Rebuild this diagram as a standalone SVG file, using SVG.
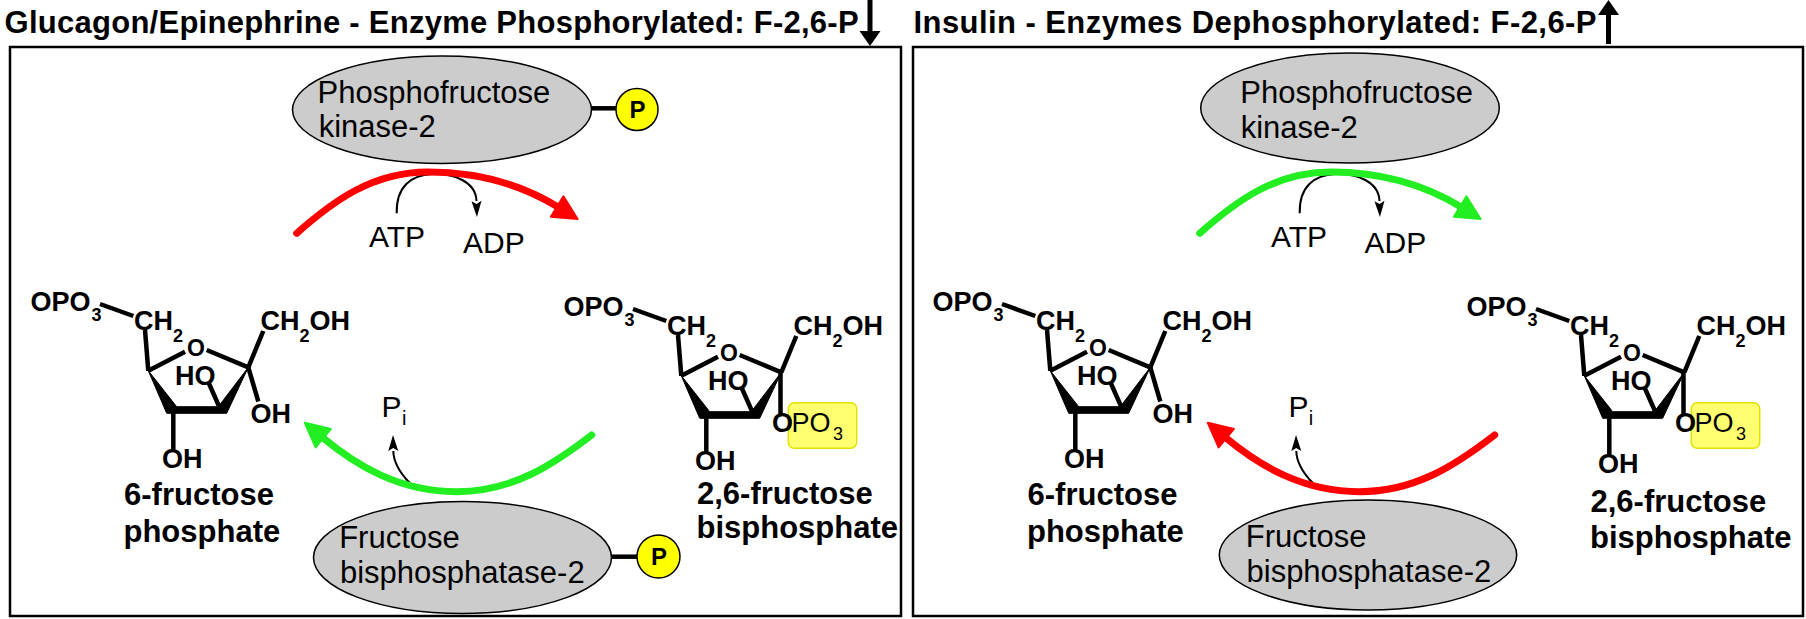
<svg xmlns="http://www.w3.org/2000/svg" width="1806" height="619" viewBox="0 0 1806 619">
<style>
text{font-family:"Liberation Sans",Arial,Helvetica,sans-serif;fill:#000}
.title{font-weight:bold;font-size:31px}
.box{fill:none;stroke:#000;stroke-width:2.5}
.enz{fill:#cccccc;stroke:#000;stroke-width:1.5}
.enzt{font-size:31px}
.small{font-size:30px}
.pis{font-size:20px}
.lbl{font-weight:bold;font-size:31px}
.atom{font-weight:bold;font-size:27px}
.sub{font-size:18px}
.ringo{font-size:23px}
.reg{font-weight:normal}
.po{font-size:27px}
.bond{fill:none;stroke:#000;stroke-width:4.5}
.wedge{fill:#000;stroke:#000;stroke-width:1;stroke-linejoin:round}
.ybox{fill:#ffff70;stroke:#e2e200;stroke-width:1.5}
.pc{fill:#ffff00;stroke:#000;stroke-width:1.5}
.pt{font-weight:bold;font-size:24px;text-anchor:middle}
.plink{stroke:#000;stroke-width:4.5}
.arc{fill:none;stroke-width:7;stroke-linecap:round}
.red{stroke:#ff0000}
.green{stroke:#22ee22}
.thin{fill:none;stroke:#000;stroke-width:2}
.tarrow{stroke:#000;stroke-width:5}
</style>
<defs>
<marker id="ah-red" markerUnits="userSpaceOnUse" markerWidth="30" markerHeight="30" refX="1" refY="12" orient="auto" overflow="visible">
<path d="M0,0 L24,12 L0,24 Z" fill="#ff0000" stroke="#ff0000" stroke-width="2" stroke-linejoin="round"/>
</marker>
<marker id="ah-green" markerUnits="userSpaceOnUse" markerWidth="30" markerHeight="30" refX="1" refY="12" orient="auto" overflow="visible">
<path d="M0,0 L24,12 L0,24 Z" fill="#22ee22" stroke="#22ee22" stroke-width="2" stroke-linejoin="round"/>
</marker>
<marker id="ah-black" markerUnits="userSpaceOnUse" markerWidth="20" markerHeight="12" refX="0" refY="5" orient="auto" overflow="visible">
<path d="M0,0 L16,5 L0,10 L3,5 Z" fill="#000"/>
</marker>
<marker id="ah-title" markerUnits="userSpaceOnUse" markerWidth="20" markerHeight="24" refX="0" refY="10.5" orient="auto" overflow="visible">
<path d="M0,0 L15,10.5 L0,21 Z" fill="#000"/>
</marker>
</defs>

<rect width="1806" height="619" fill="#fff"/>

<!-- Titles -->
<g id="title-left">
<text class="title" x="4.6" y="33.3" textLength="854">Glucagon/Epinephrine - Enzyme Phosphorylated: F-2,6-P</text>
</g>
<g id="title-right">
<text class="title" x="913.5" y="33.3" textLength="683">Insulin - Enzymes Dephosphorylated: F-2,6-P</text>
</g>

<!-- Panels -->
<g id="panel-left"><rect class="box" x="10" y="47" width="891" height="569"/></g>
<g id="panel-right"><rect class="box" x="913" y="47" width="890" height="569"/></g>

<!-- LEFT PANEL NODES -->
<g id="pfk2-left">
<ellipse class="enz" cx="442" cy="109.7" rx="149.5" ry="53.7"/>
<text class="enzt" x="317.6" y="103.3">Phosphofructose</text>
<text class="enzt" x="318.7" y="137.3">kinase-2</text>
</g>
<g id="pfk2-left-phospho">
<line class="plink" x1="591.7" y1="108.3" x2="616.5" y2="108.3"/>
<circle class="pc" cx="637" cy="109.5" r="21"/>
<text class="pt" x="637.5" y="118">P</text>
</g>
<g id="fbp2-left">
<ellipse class="enz" cx="462.5" cy="557.5" rx="149" ry="56"/>
<text class="enzt" x="339.2" y="548.3">Fructose</text>
<text class="enzt" x="339.9" y="583.3">bisphosphatase-2</text>
</g>
<g id="fbp2-left-phospho">
<line class="plink" x1="611.5" y1="556.7" x2="637.5" y2="556.7"/>
<circle class="pc" cx="658.5" cy="556.5" r="21.5"/>
<text class="pt" x="659" y="565">P</text>
</g>

<g id="f6p-left">
<text class="atom" x="30.5" y="310.7">OPO</text><text class="atom sub" x="91.5" y="320.5">3</text>
<line class="bond" x1="100" y1="304" x2="133.3" y2="316"/>
<text class="atom" x="134" y="330">CH</text><text class="atom sub" x="173" y="341.5">2</text>
<text class="atom ringo" x="196" y="356" text-anchor="middle">O</text>
<path class="bond" d="M145,330 L148.3,370.7 M148.3,370.7 L185,351.7 M206.7,350 L248.3,367.3 M248.3,367.3 L263.3,331"/>
<text class="atom" x="260.5" y="330">CH<tspan class="sub" dy="11.5">2</tspan><tspan dy="-11.5">OH</tspan></text>
<polygon class="wedge" points="148.3,370.7 166.7,413.3 226.7,413.3 248.3,367.3 218.3,406.7 176.7,406.7"/>
<path class="bond" d="M173.3,412 L173.3,450 M220,408.3 L208.3,382 M248.3,367.3 L258.3,401.5"/>
<text class="atom" x="162" y="468.3">OH</text>
<text class="atom" x="175" y="385">HO</text>
<text class="atom" x="250.5" y="423.3">OH</text>
</g>
<g id="f6p-left-label">
<text class="lbl" x="124" y="505">6-fructose</text>
<text class="lbl" x="123.5" y="541.7">phosphate</text>
</g>

<g id="f26bp-left" transform="translate(533,5)">
<text class="atom" x="30.5" y="310.7">OPO</text><text class="atom sub" x="91.5" y="320.5">3</text>
<line class="bond" x1="100" y1="304" x2="133.3" y2="316"/>
<text class="atom" x="134" y="330">CH</text><text class="atom sub" x="173" y="341.5">2</text>
<text class="atom ringo" x="196" y="356" text-anchor="middle">O</text>
<path class="bond" d="M145,330 L148.3,370.7 M148.3,370.7 L185,351.7 M206.7,350 L248.3,367.3 M248.3,367.3 L263.3,331"/>
<text class="atom" x="260.5" y="330">CH<tspan class="sub" dy="11.5">2</tspan><tspan dy="-11.5">OH</tspan></text>
<polygon class="wedge" points="148.3,370.7 166.7,413.3 226.7,413.3 248.3,367.3 218.3,406.7 176.7,406.7"/>
<path class="bond" d="M173.3,412 L173.3,448 M220,408.3 L208.3,382 M247.5,367.3 L247.5,409"/>
<text class="atom" x="162" y="465">OH</text>
<text class="atom" x="175" y="385">HO</text>
<rect class="ybox" x="255.3" y="397.7" width="68.4" height="45.6" rx="6"/>
<text class="atom" x="239" y="426.7">O</text>
<text class="atom reg po" x="258.5" y="426.7">PO</text><text class="atom reg sub" x="300" y="435">3</text>
</g>
<g id="f26bp-left-label">
<text class="lbl" x="697" y="504.3">2,6-fructose</text>
<text class="lbl" x="696.5" y="537.5">bisphosphate</text>
</g>

<g id="cofactors-left">
<text class="small" x="369" y="246.7">ATP</text>
<text class="small" x="463" y="253.3">ADP</text>
<text class="small" x="381.5" y="416.7">P</text><text class="pis" x="402" y="425">i</text>
</g>

<!-- RIGHT PANEL NODES -->
<g id="pfk2-right">
<ellipse class="enz" cx="1350" cy="108" rx="149.3" ry="55"/>
<text class="enzt" x="1240.3" y="103.3">Phosphofructose</text>
<text class="enzt" x="1240.7" y="138.3">kinase-2</text>
</g>
<g id="fbp2-right">
<ellipse class="enz" cx="1368" cy="555" rx="148.7" ry="55"/>
<text class="enzt" x="1245.8" y="546.7">Fructose</text>
<text class="enzt" x="1246.5" y="581.7">bisphosphatase-2</text>
</g>

<g id="f6p-right" transform="translate(902,0)">
<text class="atom" x="30.5" y="310.7">OPO</text><text class="atom sub" x="91.5" y="320.5">3</text>
<line class="bond" x1="100" y1="304" x2="133.3" y2="316"/>
<text class="atom" x="134" y="330">CH</text><text class="atom sub" x="173" y="341.5">2</text>
<text class="atom ringo" x="196" y="356" text-anchor="middle">O</text>
<path class="bond" d="M145,330 L148.3,370.7 M148.3,370.7 L185,351.7 M206.7,350 L248.3,367.3 M248.3,367.3 L263.3,331"/>
<text class="atom" x="260.5" y="330">CH<tspan class="sub" dy="11.5">2</tspan><tspan dy="-11.5">OH</tspan></text>
<polygon class="wedge" points="148.3,370.7 166.7,413.3 226.7,413.3 248.3,367.3 218.3,406.7 176.7,406.7"/>
<path class="bond" d="M173.3,412 L173.3,450 M220,408.3 L208.3,382 M248.3,367.3 L258.3,401.5"/>
<text class="atom" x="162" y="468.3">OH</text>
<text class="atom" x="175" y="385">HO</text>
<text class="atom" x="250.5" y="423.3">OH</text>
</g>
<g id="f6p-right-label">
<text class="lbl" x="1027.5" y="505">6-fructose</text>
<text class="lbl" x="1027" y="541.7">phosphate</text>
</g>

<g id="f26bp-right" transform="translate(1436,5)">
<text class="atom" x="30.5" y="310.7">OPO</text><text class="atom sub" x="91.5" y="320.5">3</text>
<line class="bond" x1="100" y1="304" x2="133.3" y2="316"/>
<text class="atom" x="134" y="330">CH</text><text class="atom sub" x="173" y="341.5">2</text>
<text class="atom ringo" x="196" y="356" text-anchor="middle">O</text>
<path class="bond" d="M145,330 L148.3,370.7 M148.3,370.7 L185,351.7 M206.7,350 L248.3,367.3 M248.3,367.3 L263.3,331"/>
<text class="atom" x="260.5" y="330">CH<tspan class="sub" dy="11.5">2</tspan><tspan dy="-11.5">OH</tspan></text>
<polygon class="wedge" points="148.3,370.7 166.7,413.3 226.7,413.3 248.3,367.3 218.3,406.7 176.7,406.7"/>
<path class="bond" d="M173.3,412 L173.3,450 M220,408.3 L208.3,382 M247.5,367.3 L247.5,409"/>
<text class="atom" x="162" y="468.3">OH</text>
<text class="atom" x="175" y="385">HO</text>
<rect class="ybox" x="255.3" y="397.7" width="68.4" height="45.6" rx="6"/>
<text class="atom" x="239" y="426.7">O</text>
<text class="atom reg po" x="258.5" y="426.7">PO</text><text class="atom reg sub" x="300" y="435">3</text>
</g>
<g id="f26bp-right-label">
<text class="lbl" x="1590.5" y="511.7">2,6-fructose</text>
<text class="lbl" x="1590" y="548.3">bisphosphate</text>
</g>

<g id="cofactors-right">
<text class="small" x="1271" y="246.7">ATP</text>
<text class="small" x="1364.5" y="253.3">ADP</text>
<text class="small" x="1288.5" y="416.7">P</text><text class="pis" x="1308.7" y="425">i</text>
</g>

<!-- CONNECTORS -->
<g id="connectors">
<!-- left panel -->
<path class="thin" d="M396.7,213.3 C396,186 412,175 432,174 C454,173 476,182 476.5,201" marker-end="url(#ah-black)"/>
<path class="arc red" d="M296.7,233.3 C334,200.3 373,172 428,172 C478,172 519.8,183.6 558,207" marker-end="url(#ah-red)"/>
<path class="thin" d="M410,483.3 C399,472 393.5,462 393.3,451" marker-end="url(#ah-black)"/>
<path class="arc green" d="M591.7,435 C552.2,465.5 511.7,491.7 456.7,491.7 C400,491.7 357.2,466.3 322.5,437.5" marker-end="url(#ah-green)"/>
<!-- right panel -->
<path class="thin" d="M1299.7,213.3 C1299,186 1315,175 1335,174 C1357,173 1379,182 1379.5,201" marker-end="url(#ah-black)"/>
<path class="arc green" d="M1199.7,233.3 C1237,200.3 1276,172 1331,172 C1381,172 1422.8,183.6 1461,207" marker-end="url(#ah-green)"/>
<path class="thin" d="M1313,483.3 C1302,472 1296.5,462 1296.3,451" marker-end="url(#ah-black)"/>
<path class="arc red" d="M1494.7,435 C1455.2,465.5 1414.7,491.7 1359.7,491.7 C1303,491.7 1260.2,466.3 1225.5,437.5" marker-end="url(#ah-red)"/>
<!-- title arrows -->
<path class="tarrow" d="M870,0 L870,31" marker-end="url(#ah-title)"/>
<path class="tarrow" d="M1608.5,44 L1608.5,15" marker-end="url(#ah-title)"/>
</g>
</svg>
